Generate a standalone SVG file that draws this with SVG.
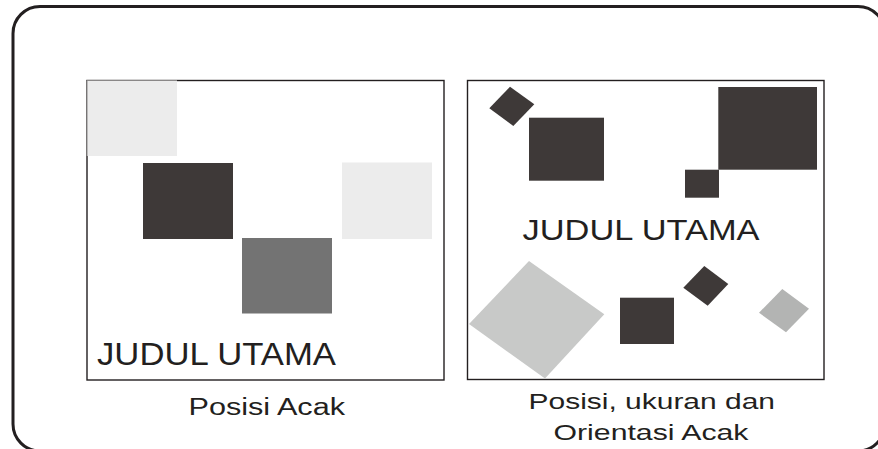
<svg xmlns="http://www.w3.org/2000/svg" width="878" height="449" viewBox="0 0 878 449">
  <style>
    .frame { fill: none; stroke: #231f20; stroke-width: 1.4; }
    .outer { fill: none; stroke: #231f20; stroke-width: 3; }
    .dark { fill: #3e3938; }
    .light { fill: #ececec; }
    .mid { fill: #737373; }
    .pale { fill: #c8c9c8; }
    .grey { fill: #b3b4b3; }
    .label { font-family: "Liberation Sans", Arial, sans-serif; fill: #231f20; }
  </style>
  <rect width="878" height="449" fill="#ffffff"/>

  <!-- outer rounded border -->
  <g id="border">
    <rect class="outer" x="13" y="6.5" width="872" height="444.5" rx="27" ry="27"/>
  </g>

  <!-- panel 1: random positions -->
  <g id="panel-position">
    <rect class="frame" x="87" y="80.5" width="357" height="299.5"/>
    <rect class="light" x="87" y="80" width="90" height="76"/>
    <path d="M87 156 V80.5 H177" fill="none" stroke="#8a8888" stroke-width="1"/>
    <rect class="dark" x="143" y="163" width="90" height="76"/>
    <rect class="mid" x="242" y="238" width="90" height="75.5"/>
    <rect class="light" x="342" y="162.5" width="90" height="76.5"/>
    <text class="label" x="97" y="364.5" font-size="30.5" textLength="239" lengthAdjust="spacingAndGlyphs">JUDUL UTAMA</text>
  </g>

  <!-- panel 2: random position, size and orientation -->
  <g id="panel-orientation">
    <rect class="frame" x="467.5" y="80.5" width="356.5" height="299"/>
    <polygon class="dark" points="510,86.7 534.3,104.3 513.3,126 489.3,108.3"/>
    <rect class="dark" x="529" y="117.7" width="75" height="63"/>
    <rect class="dark" x="718.3" y="87" width="98.7" height="82.7"/>
    <rect class="dark" x="685" y="169.7" width="34" height="28"/>
    <text class="label" x="522.5" y="239.5" font-size="29.5" textLength="237" lengthAdjust="spacingAndGlyphs">JUDUL UTAMA</text>
    <polygon class="pale" points="529,261 604.3,314.3 545,378.5 469,324"/>
    <rect class="dark" x="620" y="297.7" width="54" height="46.3"/>
    <polygon class="dark" points="704.3,266 728.3,284 707.7,305.7 683.3,287.7"/>
    <polygon class="grey" points="782.3,289 809,308.7 786,332.3 759,312.7"/>
  </g>

  <!-- captions -->
  <g id="caption-position">
    <text class="label" x="188.5" y="415" font-size="23" textLength="156.5" lengthAdjust="spacingAndGlyphs">Posisi Acak</text>
  </g>
  <g id="caption-orientation">
    <text class="label" x="528.5" y="408.5" font-size="22.5" textLength="246.5" lengthAdjust="spacingAndGlyphs">Posisi, ukuran dan</text>
    <text class="label" x="553.5" y="439.5" font-size="22.5" textLength="195" lengthAdjust="spacingAndGlyphs">Orientasi Acak</text>
  </g>
</svg>
